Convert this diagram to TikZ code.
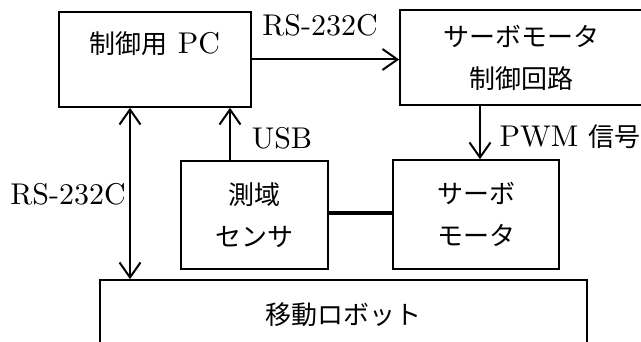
\documentclass[tikz,border=0pt]{standalone}
\usepackage{fontspec}
\setmainfont{lmroman10-regular.otf}
\newfontfamily\jpfont{Noto Sans CJK JP}
\usetikzlibrary{arrows.meta}
\newcommand\J[1]{{\jpfont\fontsize{26}{42}\selectfont #1}}
\begin{document}
\begin{tikzpicture}[x=1pt,y=-1pt,
  every node/.style={font=\fontsize{30}{42}\selectfont},
  box/.style={draw,line width=1.6pt,inner sep=0pt,align=center},
  conn/.style={line width=2pt},
  barb/.tip={Straight Barb[length=15pt,width=21pt]},
  tip/.style={conn,-barb}]
\clip (0,0) rectangle (641,342);
% boxes
\node[box,minimum width=192,minimum height=95] (pc) at (155,59.5) {};
\node (pct) at (155,44) {\J{制御用} PC};
\node[box,minimum width=243,minimum height=95] (sc) at (521.5,57.5) {\J{サーボモータ}\\\J{制御回路}};
\node[box,minimum width=147,minimum height=108] (ss) at (254.5,215) {\J{測域}\\\J{センサ}};
\node[box,minimum width=166,minimum height=109] (sm) at (476,214.5) {\J{サーボ}\\\J{モータ}};
\node[box,minimum width=487,minimum height=70] (rb) at (343.5,315) {\J{移動ロボット}};
% connectors
\draw[tip] (pc.east) -- (pc.east -| sc.west);
\draw[tip] (230,0 |- ss.north) -- (230,0 |- pc.south);
\draw[tip] (480,0 |- sc.south) -- (480,0 |- sm.north);
\draw[conn,barb-barb] (130,0 |- pc.south) -- (130,0 |- rb.north);
\draw[line width=4.5pt] (ss.east |- 0,213) -- (sm.west |- 0,213);
% labels
\node (l1) at (320,25) {RS-232C};
\node (l2) at (282,138) {USB};
\node (l3) at (570,137) {PWM \J{信号}};
\node (l4) at (68,194) {RS-232C};
\end{tikzpicture}
\end{document}
